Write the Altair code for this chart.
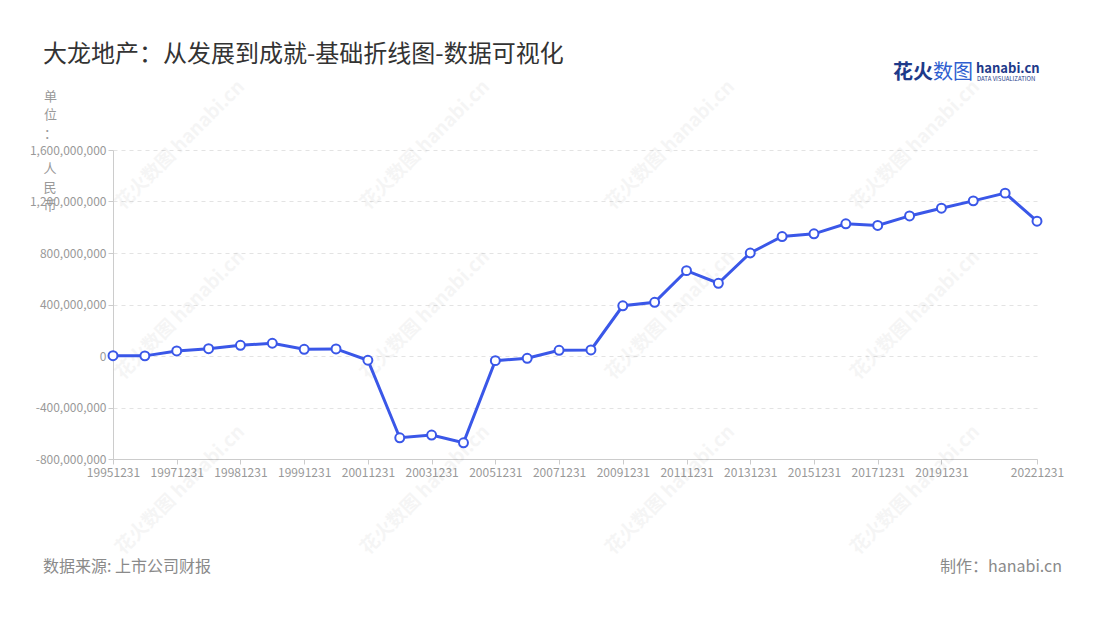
import altair as alt
import pandas as pd

# ---------------- data ----------------
dates = ["19951231", "19961231", "19971231", "19980630", "19981231", "19990630",
         "19991231", "20001231", "20011231", "20021231", "20031231", "20041231",
         "20051231", "20061231", "20071231", "20081231", "20091231", "20101231",
         "20111231", "20121231", "20131231", "20141231", "20151231", "20161231",
         "20171231", "20181231", "20191231", "20201231", "20211231", "20221231"]
values_m = [2, 1, 39, 57, 83, 99, 52, 55, -33, -635, -614, -674, -36, -18, 44, 47,
            390, 417, 663, 565, 800, 928, 949, 1027, 1014, 1088, 1148, 1205, 1265, 1047]
values = [v * 1_000_000 for v in values_m]
shown_labels = ["19951231", "19971231", "19981231", "19991231", "20011231", "20031231",
                "20051231", "20071231", "20091231", "20111231", "20131231", "20151231",
                "20171231", "20191231", "20221231"]
y_ticks = [-800_000_000, -400_000_000, 0, 400_000_000, 800_000_000,
           1_200_000_000, 1_600_000_000]

title_text = "大龙地产：从发展到成就-基础折线图-数据可视化"
unit_title_a = ["单", "位", "："]
unit_title_b = ["人", "民", "币"]
source_text = "数据来源: 上市公司财报"
maker_text = "制作：hanabi.cn"

# watermark centres (page px)
wm_x = [180, 425, 670, 915, 180, 425, 670, 915, 180, 425, 670, 915]
wm_y = [145, 145, 145, 145, 315, 315, 315, 315, 490, 490, 490, 490]

FONT = "Noto Sans CJK SC"
BLUE = "#3a57e8"
PL, PT = 105, 142  # plot origin offset inside svg

df = pd.DataFrame({"date": dates, "value": values})

x_enc = alt.X("date:N", sort=dates,
              scale=alt.Scale(type="point", padding=0),
              axis=alt.Axis(values=shown_labels, labelAngle=0, title=None,
                            domainColor="#cccccc", tickColor="#cccccc", tickSize=5,
                            labelColor="#999999", labelFontSize=12, labelFont=FONT,
                            labelPadding=3, grid=False))
y_enc = alt.Y("value:Q",
              scale=alt.Scale(domain=[-800_000_000, 1_600_000_000], nice=False, zero=False),
              axis=alt.Axis(values=y_ticks,
                            labelExpr="replace(format(datum.value, ',d'), '\u2212', '-')",
                            domainColor="#cccccc", tickColor="#cccccc", tickSize=5,
                            labelColor="#999999", labelFontSize=12, labelFont=FONT,
                            labelPadding=2,
                            grid=True, gridColor="#e3e3e3", gridDash=[4, 4],
                            title=unit_title_a, titleAngle=0, titleAlign="center",
                            titleBaseline="top", titleX=-63, titleY=-60,
                            titleLineHeight=18.5, titleFont=FONT, titleFontSize=13,
                            titleFontWeight="normal", titleColor="#999999"))

wm = alt.Chart(pd.DataFrame({"wx": [v - 113 for v in wm_x],
                             "wy": [v - 150 for v in wm_y]})).mark_text(
    text="花火数图 hanabi.cn", font=FONT, fontSize=19, fontWeight="bold",
    angle=315, color="#000000", opacity=0.035, align="center", baseline="middle"
).encode(x=alt.X("wx:Q", scale=None), y=alt.Y("wy:Q", scale=None))

line = alt.Chart(df).mark_line(color=BLUE, strokeWidth=3).encode(x=x_enc, y=y_enc)
pts = alt.Chart(df).mark_point(filled=True, fill="white", stroke=BLUE, strokeWidth=2,
                               size=80, opacity=1).encode(x=x_enc, y=y_enc)

one = pd.DataFrame({"k": [0]})


def txt(text, x, y, size, color, align="left", weight="normal", baseline="middle"):
    return alt.Chart(one).mark_text(
        text=text, font=FONT, fontSize=size, color=color, align=align,
        baseline=baseline, fontWeight=weight, lineHeight=18.5
    ).encode(x=alt.value(x - 113), y=alt.value(y - 150))


unit_b = txt(unit_title_b, 50, 163, 13, "#999999", align="center", baseline="top")
title = txt(title_text, 43, 55, 24, "#333333")
src = txt(source_text, 43, 567, 16, "#8a8a8a")
mk = txt(maker_text, 1062, 567, 16, "#8a8a8a", align="right")
logo1 = txt("花火", 893, 73, 20, "#1e3a8a", weight="bold")
logo2 = txt("数图", 933, 73, 20, "#2f5fd0")
logo3 = txt("hanabi.cn", 976, 69, 13, "#1e3a8a", weight="bold")
logo4 = txt("DATA VISUALIZATION", 977, 79, 6, "#1e3a8a")

chart = alt.layer(wm, line, pts, unit_b, title, src, mk,
                  logo1, logo2, logo3, logo4).properties(
    width=924, height=309,
    background="white",
    autosize=alt.AutoSizeParams(type="none"),
    padding={"left": PL, "top": PT, "right": 45, "bottom": 150},
).configure_view(stroke="transparent", strokeWidth=0)

chart.save("out.html", embed_options={"renderer": "svg", "actions": False})
